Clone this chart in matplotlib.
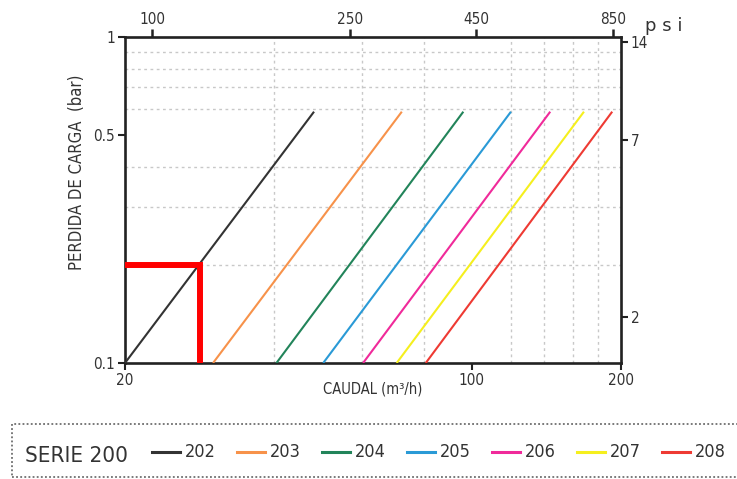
import numpy as np
import matplotlib
matplotlib.use('Agg')
import matplotlib.pyplot as plt
from matplotlib.lines import Line2D
from matplotlib.patches import Rectangle
from matplotlib.ticker import NullLocator

plt.rcParams['font.family'] = ['DejaVu Sans']
plt.rcParams['font.stretch'] = 'condensed'

# series: flow (m3/h) where each line starts / ends
models = ['202', '203', '204', '205', '206', '207', '208']
colors = ['#333333', '#f7924a', '#22845a', '#2a9ad6', '#f02a9a', '#f5ef1e', '#ee3a33']
q_start = [20.0, 30.1, 40.4, 50.2, 60.4, 70.6, 80.8]
q_end = [48.1, 72.3, 96.2, 120.0, 144.0, 168.4, 192.0]
dp_start = 0.1
dp_end = 0.59

# example point marked in red (202 at 0.2 bar)
ex_q = 28.3
ex_dp = 0.2

x_ticks = [20, 100, 200]
y_ticks = [0.1, 0.5, 1]
x_grid = [40, 60, 80, 100, 120, 140, 160, 180]
y_grid = [0.2, 0.3, 0.4, 0.5, 0.6, 0.7, 0.8, 0.9]
gpm_ticks = [100, 250, 450, 850]
psi_ticks = [2, 7, 14]

GPM = 0.22712  # m3/h per US gpm
PSI = 14.5038  # psi per bar

fig = plt.figure(figsize=(7.37, 4.79), dpi=100)
ax = fig.add_axes([0.1696, 0.2422, 0.673, 0.6806])
ax.set_xscale('log')
ax.set_yscale('log')
ax.set_xlim(20, 200)
ax.set_ylim(0.1, 1)

for m, c, q0, q1 in zip(models, colors, q_start, q_end):
    ax.plot([q0, q1], [dp_start, dp_end], color=c, lw=1.5, solid_capstyle='butt', zorder=3)

ax.plot([20, ex_q], [ex_dp, ex_dp], color='#ff0000', lw=4.3, solid_capstyle='butt', zorder=4, clip_on=False)
ax.plot([ex_q, ex_q], [ex_dp, 0.1], color='#ff0000', lw=4.3, solid_capstyle='projecting', zorder=4)

ax.set_xticks(x_ticks, [str(v) for v in x_ticks])
ax.set_yticks(y_ticks, ['0.1', '0.5', '1'])
ax.set_xticks(x_grid, minor=True)
ax.set_yticks(y_grid, minor=True)
ax.set_xticklabels([], minor=True)
ax.set_yticklabels([], minor=True)
ax.grid(which='minor', color='#c8c8c8', lw=1.0, ls=(0, (2, 2.5)))
ax.tick_params(which='minor', length=0)
ax.tick_params(which='major', length=5, width=1.5, color='#222222',
               labelsize=11, labelcolor='#333333', pad=2)
for s in ax.spines.values():
    s.set_linewidth(1.9)
    s.set_color('#222222')

top = ax.secondary_xaxis('top', functions=(lambda q: q / GPM, lambda g: g * GPM))
top.set_xticks(gpm_ticks, [str(v) for v in gpm_ticks])
top.xaxis.set_minor_locator(NullLocator())
top.tick_params(length=6, width=1.8, color='#222222', labelsize=11,
                labelcolor='#333333', pad=1)

right = ax.secondary_yaxis('right', functions=(lambda b: b * PSI, lambda p: p / PSI))
right.set_yticks(psi_ticks, [str(v) for v in psi_ticks])
right.yaxis.set_minor_locator(NullLocator())
right.tick_params(length=5, width=1.5, color='#222222', labelsize=11,
                  labelcolor='#333333', pad=2)

fig.text(77 / 737, 1 - 172 / 479, 'PERDIDA DE CARGA  (bar)', rotation=90,
         ha='center', va='center', fontsize=12, color='#333333')
fig.text(373 / 737, 1 - 389 / 479, 'CAUDAL (m\u00b3/h)', ha='center', va='center',
         fontsize=10.5, color='#333333')
fig.text(664 / 737, 1 - 26 / 479, 'p s i', ha='center', va='center',
         fontsize=13, color='#333333', stretch='normal')

# legend box
fig.add_artist(Rectangle((12 / 737, 2 / 479), 0.99, 53 / 479, transform=fig.transFigure,
                         fill=False, ls=(0, (1.2, 1.5)), lw=1.1, edgecolor='#555555'))
fig.text(25 / 737, 1 - 456 / 479, 'SERIE 200', ha='left', va='center',
         fontsize=16, color='#333333')
for i, (m, c) in enumerate(zip(models, colors)):
    x0 = 152 + i * 85
    fig.add_artist(Line2D([x0 / 737, (x0 + 28) / 737], [1 - 452 / 479] * 2,
                          transform=fig.transFigure, color=c, lw=2.2))
    fig.text((x0 + 33) / 737, 1 - 452 / 479, m, ha='left', va='center',
             fontsize=13, color='#333333')

fig.savefig('out.png', dpi=100)
